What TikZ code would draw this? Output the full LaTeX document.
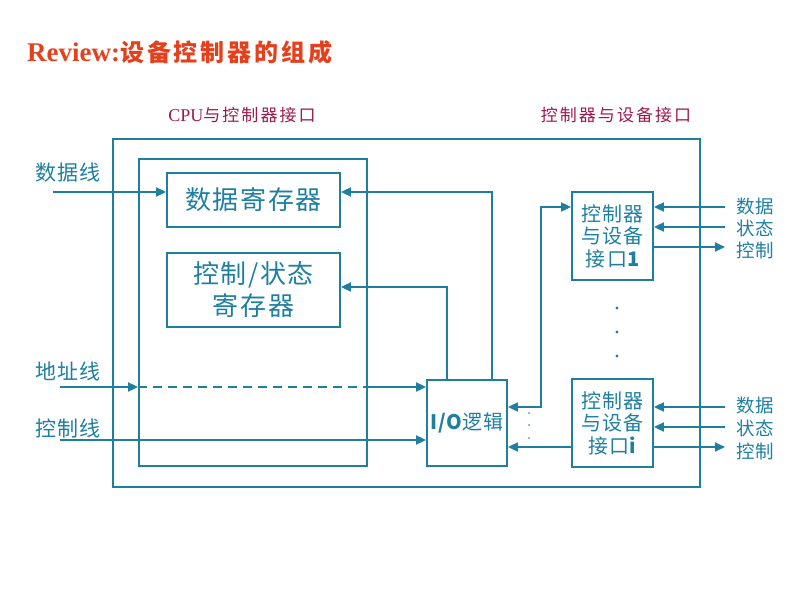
\documentclass[tikz,border=0pt]{standalone}
\usepackage{fontspec}
\setmainfont{Liberation Serif}
\newfontfamily\cjk[LetterSpace=6]{Noto Sans CJK SC}
\newfontfamily\cjkwide[LetterSpace=12]{Noto Sans CJK SC}
\usepackage{xcolor}
\definecolor{lineblue}{HTML}{1E7FA0}
\definecolor{titlered}{HTML}{E5401E}
\definecolor{headred}{HTML}{A0174F}
\usepackage{tikz}
\usetikzlibrary{arrows.meta}

\tikzset{
  box/.style={draw=lineblue, line width=1.8pt, inner sep=0pt, text=lineblue, align=center},
  wire/.style={draw=lineblue, line width=1.8pt},
  reg/.style={minimum width=173pt, font={\cjk\fontsize{26}{32}\selectfont}},
  port/.style={minimum width=81pt, minimum height=88pt, font={\cjk\fontsize{20}{22.5}\selectfont}},
  lbl/.style={text=lineblue, inner sep=0pt, font={\cjk\fontsize{21}{24}\selectfont}},
  rlbl/.style={text=lineblue, anchor=west, inner xsep=11pt, inner ysep=0pt, font={\cjk\fontsize{18.5}{20}\selectfont}},
  head/.style={text=headred, inner sep=0pt, font={\cjkwide\fontsize{17}{20}\selectfont}}
}

\begin{document}
\begin{tikzpicture}[x=1pt, y=-1pt, >={Triangle[length=10pt,width=9pt]}]
  \useasboundingbox (0,0) rectangle (800,600);

  % Title
  \node[anchor=west, text=titlered, inner sep=0pt] (title) at (27,52)
    {\bfseries\fontsize{27}{30}\selectfont Review:\cjkwide\fontsize{24}{30}\selectfont 设备控制器的组成};

  % Column headings
  \node[head] (cpuhead) at (242,115) {{\rmfamily\fontsize{18}{20}\selectfont CPU}与控制器接口};
  \node[head] (devhead) at (616,115) {控制器与设备接口};

  % Controller frame and CPU side
  \node[box, minimum width=587pt, minimum height=348pt] (ctrl) at (406.5,313) {};
  \node[box, minimum width=228pt, minimum height=307pt] (cpuside) at (253,312.5) {};

  % Registers
  \node[box, reg, minimum height=54pt] (datareg) at (253.5,200) {数据寄存器};
  \node[box, reg, minimum height=74pt] (csreg) at (253.5,290) {控制/状态\\寄存器};

  % I/O logic and device interfaces
  \node[box, minimum width=80pt, minimum height=86pt, font={\cjk\fontsize{20}{22}\selectfont}] (iolog) at (467,423) {{\bfseries I/O}逻辑};
  \node[box, port] (dev1) at (612.5,236) {控制器\\与设备\\接口{\bfseries 1}};
  \node[box, port] (devi) at (612.5,423) {控制器\\与设备\\接口{\bfseries i}};

  % Bus lines from the CPU
  \node[lbl] (datalbl) at (68,173) {数据线};
  \node[lbl] (addrlbl) at (68,371) {地址线};
  \node[lbl] (ctllbl) at (68,428) {控制线};
  \coordinate (dline) at (53,192);
  \coordinate (aline) at (60,387);
  \coordinate (cline) at (60,440);
  \draw[wire,->] (dline) -- (dline -| datareg.west);
  \draw[wire,->] (aline) -- (aline -| cpuside.west);
  \draw[wire,dash pattern=on 9pt off 6pt] (aline -| cpuside.west) -- (aline -| cpuside.east);
  \draw[wire,->] (aline -| cpuside.east) -- (aline -| iolog.west);
  \draw[wire,->] (cline) -- (cline -| iolog.west);

  % I/O logic back to the registers
  \draw[wire,->] ([xshift=25pt]iolog.north) |- ([yshift=8pt]datareg.east);
  \draw[wire,->] ([xshift=-20pt]iolog.north) |- ([yshift=3pt]csreg.east);

  % I/O logic and device interfaces
  \draw[wire,<->] ([yshift=16pt]iolog.east) -- ++(33pt,0) |- ([yshift=29pt]dev1.west);
  \draw[wire,->] ([yshift=-24pt]devi.west) -- ([yshift=-24pt]iolog.east);

  % Device side, interface 1
  \node[rlbl] (d1data) at (725,206) {数据};
  \node[rlbl] (d1stat) at (725,228) {状态};
  \node[rlbl] (d1ctl) at (725,250) {控制};
  \draw[wire,->] ([yshift=-1pt]d1data.west) -- ([yshift=-1pt]d1data.west -| dev1.east);
  \draw[wire,->] ([yshift=1pt]d1stat.west) -- ([yshift=1pt]d1stat.west -| dev1.east);
  \draw[wire,->] ([yshift=3pt]d1ctl.west -| dev1.east) -- ([yshift=3pt]d1ctl.west);

  % Device side, interface i
  \node[rlbl] (didata) at (725,405) {数据};
  \node[rlbl] (distat) at (725,428) {状态};
  \node[rlbl] (dictl) at (725,451) {控制};
  \draw[wire,->] ([yshift=-2pt]didata.west) -- ([yshift=-2pt]didata.west -| devi.east);
  \draw[wire,->] ([yshift=1pt]distat.west) -- ([yshift=1pt]distat.west -| devi.east);
  \draw[wire,->] ([yshift=4pt]dictl.west -| devi.east) -- ([yshift=4pt]dictl.west);

  % Ellipses
  \foreach \y in {308,332,356} \fill[lineblue] (617,\y) circle (1.6pt);
  \foreach \y in {413,425,438} \fill[lineblue] (529,\y) circle (0.9pt);
\end{tikzpicture}
\end{document}
